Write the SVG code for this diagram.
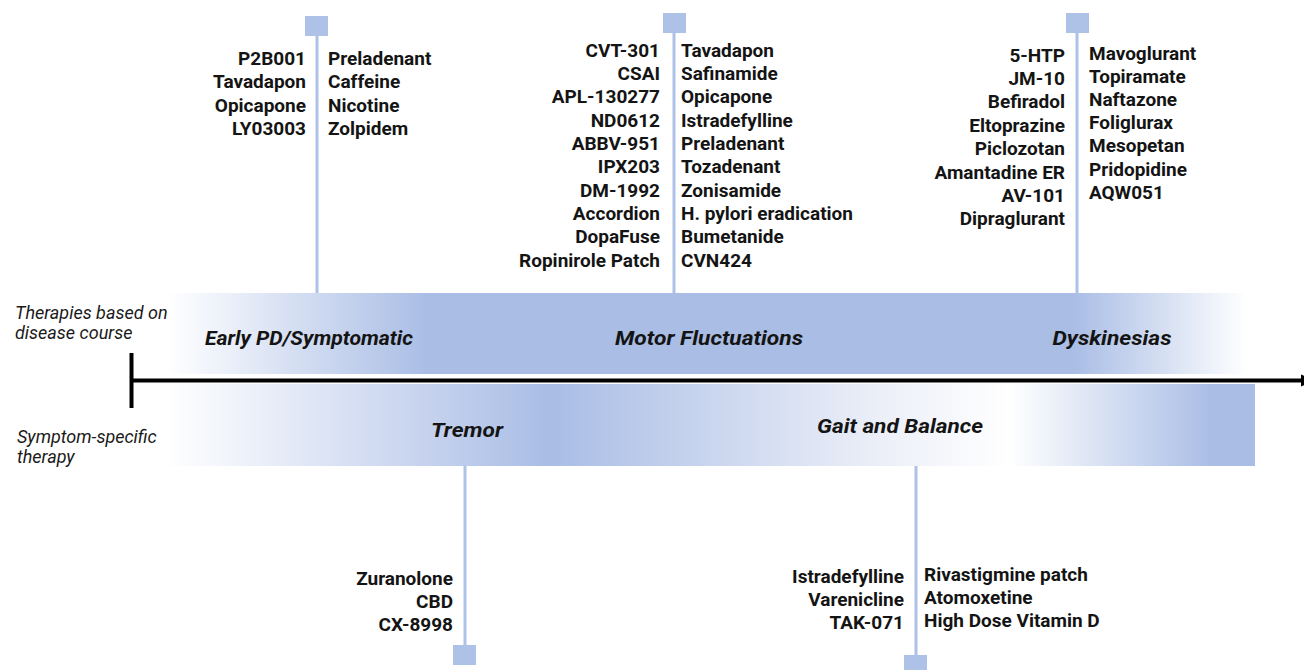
<svg xmlns="http://www.w3.org/2000/svg" width="1304" height="670" viewBox="0 0 1304 670">
<style>
.drug{font-family:Roboto,"Liberation Sans",sans-serif;font-weight:bold;font-size:19px;fill:#141414}
.r{text-anchor:end}
.band{font-family:Roboto,"Liberation Sans",sans-serif;font-weight:bold;font-style:italic;font-size:20px;fill:#141414;text-anchor:middle}
.side{font-family:Roboto,"Liberation Sans",sans-serif;font-style:italic;font-size:18px;fill:#1a1a1a}
.stem{stroke:#aec1e6;stroke-width:3}
.sq{fill:#aec1e6}
</style>
<defs>
<linearGradient id="gTop" gradientUnits="userSpaceOnUse" x1="150" y1="0" x2="1255" y2="0">
<stop offset="0.015" stop-color="#ffffff"/>
<stop offset="0.253" stop-color="#a9bde5"/>
<stop offset="0.835" stop-color="#a9bde5"/>
<stop offset="0.993" stop-color="#ffffff"/>
</linearGradient>
<linearGradient id="gBot" gradientUnits="userSpaceOnUse" x1="150" y1="0" x2="1255" y2="0">
<stop offset="0.015" stop-color="#ffffff"/>
<stop offset="0.262" stop-color="#c3d0ed"/>
<stop offset="0.362" stop-color="#a9bde5"/>
<stop offset="0.661" stop-color="#eceff8"/>
<stop offset="0.778" stop-color="#ffffff"/>
<stop offset="0.962" stop-color="#a9bde5"/>
<stop offset="1" stop-color="#a9bde5"/>
</linearGradient>
<marker id="arr" markerUnits="userSpaceOnUse" markerWidth="14" markerHeight="14" refX="2" refY="7" orient="auto">
<path d="M0,1 L14,7 L0,13 Z" fill="#000"/>
</marker>
</defs>
<g id="bands">
<rect x="150" y="293" width="1105" height="81" fill="url(#gTop)"/>
<rect x="150" y="384" width="1105" height="82" fill="url(#gBot)"/>
</g>
<g id="connectors">
<line class="stem" x1="317" y1="34" x2="317" y2="293"/>
<line class="stem" x1="674" y1="31" x2="674" y2="293"/>
<line class="stem" x1="1077" y1="31" x2="1077" y2="293"/>
<line class="stem" x1="465" y1="466" x2="465" y2="647"/>
<line class="stem" x1="916" y1="466" x2="916" y2="657"/>
<line x1="131" y1="380.5" x2="1303" y2="380.5" stroke="#000" stroke-width="4" marker-end="url(#arr)"/>
<line x1="131.5" y1="353" x2="131.5" y2="408" stroke="#000" stroke-width="4"/>
</g>
<g id="axis-labels">
<text class="side" x="15" y="319">Therapies based on</text>
<text class="side" x="15" y="339">disease course</text>
<text class="side" x="17" y="443">Symptom-specific</text>
<text class="side" x="17" y="463">therapy</text>
</g>
<g id="band-labels">
<text class="band" x="309" y="345" textLength="208" lengthAdjust="spacingAndGlyphs">Early PD/Symptomatic</text>
<text class="band" x="709" y="345" textLength="188" lengthAdjust="spacingAndGlyphs">Motor Fluctuations</text>
<text class="band" x="1112" y="345" textLength="119" lengthAdjust="spacingAndGlyphs">Dyskinesias</text>
<text class="band" x="467" y="437" textLength="72" lengthAdjust="spacingAndGlyphs">Tremor</text>
<text class="band" x="900" y="433" textLength="166" lengthAdjust="spacingAndGlyphs">Gait and Balance</text>
</g>
<g id="node-early">
<rect class="sq" x="305" y="16" width="23" height="20"/>
<text class="drug r" x="306" y="65">P2B001</text>
<text class="drug r" x="306" y="88.3">Tavadapon</text>
<text class="drug r" x="306" y="111.7">Opicapone</text>
<text class="drug r" x="306" y="135">LY03003</text>
<text class="drug" x="328" y="65">Preladenant</text>
<text class="drug" x="328" y="88.3">Caffeine</text>
<text class="drug" x="328" y="111.7">Nicotine</text>
<text class="drug" x="328" y="135">Zolpidem</text>
</g>
<g id="node-motor">
<rect class="sq" x="663" y="13" width="23" height="20"/>
<text class="drug r" x="660" y="56.7">CVT-301</text>
<text class="drug r" x="660" y="80">CSAI</text>
<text class="drug r" x="660" y="103.3">APL-130277</text>
<text class="drug r" x="660" y="126.7">ND0612</text>
<text class="drug r" x="660" y="150">ABBV-951</text>
<text class="drug r" x="660" y="173.3">IPX203</text>
<text class="drug r" x="660" y="196.7">DM-1992</text>
<text class="drug r" x="660" y="220">Accordion</text>
<text class="drug r" x="660" y="243.3">DopaFuse</text>
<text class="drug r" x="660" y="266.7">Ropinirole Patch</text>
<text class="drug" x="681" y="56.7">Tavadapon</text>
<text class="drug" x="681" y="80">Safinamide</text>
<text class="drug" x="681" y="103.3">Opicapone</text>
<text class="drug" x="681" y="126.7">Istradefylline</text>
<text class="drug" x="681" y="150">Preladenant</text>
<text class="drug" x="681" y="173.3">Tozadenant</text>
<text class="drug" x="681" y="196.7">Zonisamide</text>
<text class="drug" x="681" y="220">H. pylori eradication</text>
<text class="drug" x="681" y="243.3">Bumetanide</text>
<text class="drug" x="681" y="266.7">CVN424</text>
</g>
<g id="node-dysk">
<rect class="sq" x="1066" y="13" width="23" height="20"/>
<text class="drug r" x="1065" y="61.5">5-HTP</text>
<text class="drug r" x="1065" y="84.9">JM-10</text>
<text class="drug r" x="1065" y="108.3">Befiradol</text>
<text class="drug r" x="1065" y="131.7">Eltoprazine</text>
<text class="drug r" x="1065" y="155.1">Piclozotan</text>
<text class="drug r" x="1065" y="178.5">Amantadine ER</text>
<text class="drug r" x="1065" y="201.9">AV-101</text>
<text class="drug r" x="1065" y="225.3">Dipraglurant</text>
<text class="drug" x="1089" y="59.5">Mavoglurant</text>
<text class="drug" x="1089" y="82.7">Topiramate</text>
<text class="drug" x="1089" y="105.9">Naftazone</text>
<text class="drug" x="1089" y="129.1">Foliglurax</text>
<text class="drug" x="1089" y="152.3">Mesopetan</text>
<text class="drug" x="1089" y="175.5">Pridopidine</text>
<text class="drug" x="1089" y="198.7">AQW051</text>
</g>
<g id="node-tremor">
<rect class="sq" x="453" y="645" width="23" height="20"/>
<text class="drug r" x="453" y="584.5">Zuranolone</text>
<text class="drug r" x="453" y="607.5">CBD</text>
<text class="drug r" x="453" y="630.5">CX-8998</text>
</g>
<g id="node-gait">
<rect class="sq" x="904" y="655" width="23" height="20"/>
<text class="drug r" x="904" y="582.5">Istradefylline</text>
<text class="drug r" x="904" y="605.5">Varenicline</text>
<text class="drug r" x="904" y="628.5">TAK-071</text>
<text class="drug" x="924" y="580.5">Rivastigmine patch</text>
<text class="drug" x="924" y="603.5">Atomoxetine</text>
<text class="drug" x="924" y="626.5">High Dose Vitamin D</text>
</g>
</svg>
